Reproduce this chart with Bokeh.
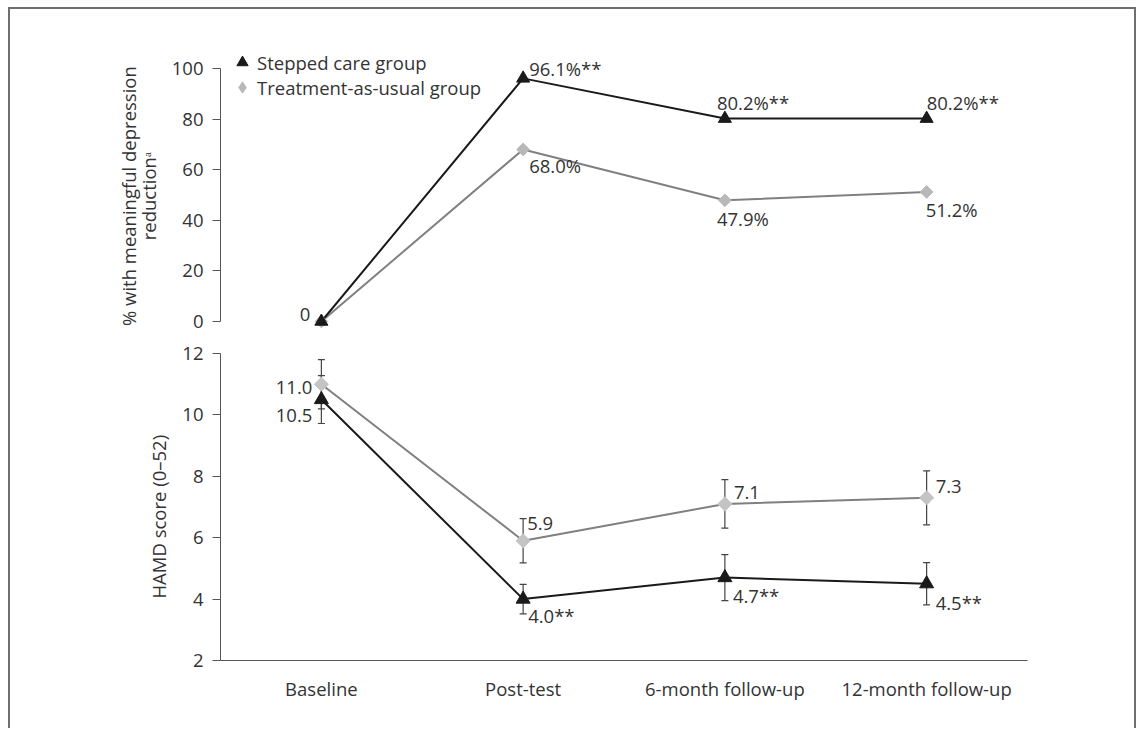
import math
from bokeh.plotting import figure
from bokeh.models import (Range1d, FixedTicker, Whisker, ColumnDataSource, Legend,
                          LegendItem, TeeHead)
from bokeh.layouts import column
from bokeh.embed import file_html
from bokeh.resources import INLINE
from bokeh.core.properties import value

# ---------------- data ----------------
categories = ["Baseline", "Post-test", "6-month follow-up", "12-month follow-up"]
series_names = ["Stepped care group", "Treatment-as-usual group"]

pct_sc = [0.0, 96.1, 80.2, 80.2]
pct_tau = [0.0, 68.0, 47.9, 51.2]
pct_sc_sig = [False, True, True, True]
pct_tau_sig = [False, False, False, False]

hamd_sc = [10.5, 4.0, 4.7, 4.5]
hamd_sc_err = [0.78, 0.48, 0.75, 0.69]
hamd_tau = [11.0, 5.9, 7.1, 7.3]
hamd_tau_err = [0.8, 0.72, 0.79, 0.88]
hamd_sc_sig = [False, True, True, True]
hamd_tau_sig = [False, False, False, False]

top_ticks = [0, 20, 40, 60, 80, 100]
bot_ticks = [2, 4, 6, 8, 10, 12]

top_ylabel_lines = ["% with meaningful depression", "reductionᵃ"]
bot_ylabel = "HAMD score (0–52)"

# ---------------- label placement (style) ----------------
# (dx, dy, align) in screen pixels; None = no label
pct_sc_pos = [(-11, -7, "right"), (6, -10, "left"), (-8, -16, "left"), (0, -16, "left")]
pct_tau_pos = [None, (6, 16, "left"), (-8, 18, "left"), (-1, 18, "left")]
hamd_sc_pos = [(-9, 16, "right"), (5, 16, "left"), (8, 18, "left"), (9, 19, "left")]
hamd_tau_pos = [(-9, 3, "right"), (4, -17, "left"), (9, -11, "left"), (9, -11, "left")]

FONT = "Open Sans"
FS = "18.5px"
TXT = "#333333"
AX = "#555555"
SC_COL = "#1a1a1a"
TAU_LINE = "#808080"
TAU_MK = "#b8b8b8"
ERR = "#444444"
NB = "\u00a0"  # trailing pad to centre axis titles on the axis span

xs = list(range(len(categories)))


def label_source(vals, sigs, pos, pct):
    d = dict(x=[], y=[], text=[], dx=[], dy=[], align=[])
    for i, (v, s, p) in enumerate(zip(vals, sigs, pos)):
        if p is None:
            continue
        if pct:
            t = "0" if v == 0 else f"{v:.1f}%"
        else:
            t = f"{v:.1f}"
        if s:
            t += "**"
        d["x"].append(xs[i]); d["y"].append(v); d["text"].append(t)
        d["dx"].append(p[0]); d["dy"].append(p[1]); d["align"].append(p[2])
    return ColumnDataSource(d)


def style_y(ax, ticks, label):
    ax.ticker = FixedTicker(ticks=ticks)
    ax.bounds = (ticks[0], ticks[-1])
    ax.axis_line_color = AX
    ax.major_tick_line_color = AX
    ax.major_tick_out = 8
    ax.major_tick_in = 0
    ax.minor_tick_line_color = None
    ax.major_label_standoff = 9
    ax.major_label_text_font = FONT
    ax.major_label_text_font_size = FS
    ax.major_label_text_color = TXT
    ax.axis_label = label
    ax.axis_label_text_font = FONT
    ax.axis_label_text_font_size = FS
    ax.axis_label_text_font_style = "normal"
    ax.axis_label_text_color = TXT
    ax.axis_label_text_line_height = 0.8
    ax.axis_label_standoff = 8


def make_legend(label, renderer, vy):
    lg = Legend(items=[LegendItem(label=label, renderers=[renderer])], location=(8, vy))
    lg.glyph_width = 28
    lg.glyph_height = 28
    lg.label_height = 21
    lg.label_standoff = 1
    lg.padding = 0
    lg.margin = 0
    lg.spacing = 0
    lg.border_line_color = None
    lg.background_fill_alpha = 0
    lg.label_text_font = FONT
    lg.label_text_font_size = FS
    lg.label_text_color = TXT
    return lg


x_range = Range1d(-0.5, 3.5)

# ---------------- top panel ----------------
top = figure(width=1124, height=325, x_range=x_range, y_range=Range1d(-5.14, 111.86),
             x_axis_location=None, toolbar_location=None, output_backend="svg",
             min_border_left=210, min_border_right=107, min_border_top=29,
             min_border_bottom=0)
top.outline_line_color = None
top.grid.visible = False
style_y(top.yaxis[0], top_ticks, "\n".join(l + NB * 4 for l in top_ylabel_lines))

top.line(xs, pct_tau, line_color=TAU_LINE, line_width=2)
top.line(xs, pct_sc, line_color=SC_COL, line_width=2)
r_tau = top.scatter(xs, pct_tau, marker="square", angle=math.pi / 4, size=9,
                    fill_color=TAU_MK, line_color=TAU_MK)
r_sc = top.scatter(xs, pct_sc, marker="triangle", size=13,
                   fill_color=SC_COL, line_color=SC_COL)
# zero-size diamond glyph: gives the legend its diamond key
r_tau_key = top.scatter(xs, pct_tau, marker="diamond", size=0,
                        fill_color=TAU_MK, line_color=TAU_MK)

for src in (label_source(pct_sc, pct_sc_sig, pct_sc_pos, True),
            label_source(pct_tau, pct_tau_sig, pct_tau_pos, True)):
    top.text(x="x", y="y", text="text", x_offset="dx", y_offset="dy",
             text_align="align", text_baseline="middle", source=src,
             text_font=value(FONT), text_font_size=FS, text_color=TXT)

top.add_layout(make_legend(series_names[0], r_sc, 258))
top.add_layout(make_legend(series_names[1], r_tau_key, 233))

# ---------------- bottom panel ----------------
bot = figure(width=1124, height=396, x_range=x_range, y_range=Range1d(2, 12.62),
             toolbar_location=None, output_backend="svg",
             min_border_left=210, min_border_right=107, min_border_top=0,
             min_border_bottom=70)
bot.outline_line_color = None
bot.grid.visible = False
style_y(bot.yaxis[0], bot_ticks, bot_ylabel + NB * 8)

xa = bot.xaxis[0]
xa.ticker = FixedTicker(ticks=xs)
xa.major_label_overrides = {i: c for i, c in zip(xs, categories)}
xa.axis_line_color = AX
xa.major_tick_line_color = None
xa.major_tick_out = 0
xa.major_tick_in = 0
xa.minor_tick_line_color = None
xa.major_label_standoff = 15
xa.major_label_text_font = FONT
xa.major_label_text_font_size = FS
xa.major_label_text_color = TXT

for vals, errs in ((hamd_tau, hamd_tau_err), (hamd_sc, hamd_sc_err)):
    es = ColumnDataSource(dict(x=xs, upper=[v + e for v, e in zip(vals, errs)],
                               lower=[v - e for v, e in zip(vals, errs)]))
    w = Whisker(source=es, base="x", upper="upper", lower="lower",
                line_color=ERR, line_width=1.2,
                upper_head=TeeHead(size=7, line_color=ERR, line_width=1.2),
                lower_head=TeeHead(size=7, line_color=ERR, line_width=1.2))
    bot.add_layout(w)

bot.line(xs, hamd_tau, line_color=TAU_LINE, line_width=2)
bot.line(xs, hamd_sc, line_color=SC_COL, line_width=2)
bot.scatter(xs, hamd_tau, marker="square", angle=math.pi / 4, size=10,
            fill_color="#c4c4c4", line_color="#c4c4c4")
bot.scatter(xs, hamd_sc, marker="triangle", size=14,
            fill_color=SC_COL, line_color=SC_COL)

for src in (label_source(hamd_sc, hamd_sc_sig, hamd_sc_pos, False),
            label_source(hamd_tau, hamd_tau_sig, hamd_tau_pos, False)):
    bot.text(x="x", y="y", text="text", x_offset="dx", y_offset="dy",
             text_align="align", text_baseline="middle", source=src,
             text_font=value(FONT), text_font_size=FS, text_color=TXT)

layout = column(top, bot, margin=(9, 0, 0, 10), styles={
    "box-shadow": "-2px -2px 0 0 #6e6e6e, 2px -2px 0 0 #6e6e6e"})

open("out.html", "w").write(file_html(layout, INLINE))
